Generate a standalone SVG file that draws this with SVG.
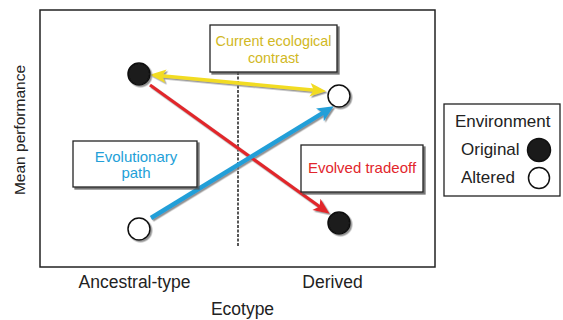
<svg xmlns="http://www.w3.org/2000/svg" width="563" height="320" viewBox="0 0 563 320">
<style>
text{font-family:"Liberation Sans",Arial,sans-serif;}
.ax{font-size:17.5px;fill:#222;}
.lab{font-size:15px;text-anchor:middle;}
.box{fill:#fff;stroke:#222;stroke-width:1.3;}
.frame{fill:#fff;stroke:#222;stroke-width:1.5;}
.dot{stroke:#111;stroke-width:1.5;}
.fill{fill:#1a1a1a;}
.open{fill:#fff;}
.conn{fill:none;stroke-linecap:butt;}
</style>
<defs>
<filter id="sh" x="-20%" y="-20%" width="150%" height="150%">
<feDropShadow dx="2" dy="2" stdDeviation="0.6" flood-color="#555" flood-opacity="0.8"/>
</filter>
<filter id="shl" x="-20%" y="-20%" width="150%" height="150%">
<feDropShadow dx="1.5" dy="1.5" stdDeviation="0.5" flood-color="#777" flood-opacity="0.8"/>
</filter>
<marker id="ay" markerUnits="userSpaceOnUse" markerWidth="20" markerHeight="20" refX="0" refY="0" viewBox="-6 -8 16 16" orient="auto-start-reverse">
<path d="M9,0 L-4,-5.5 L-1,0 L-4,5.5 Z" fill="#f2dc22"/>
</marker>
<marker id="ar" markerUnits="userSpaceOnUse" markerWidth="20" markerHeight="20" refX="0" refY="0" viewBox="-6 -8 16 16" orient="auto">
<path d="M9,0 L-4,-5.5 L-1,0 L-4,5.5 Z" fill="#e2262c"/>
</marker>
<marker id="ab" markerUnits="userSpaceOnUse" markerWidth="20" markerHeight="20" refX="0" refY="0" viewBox="-6 -8 16 16" orient="auto">
<path d="M9,0 L-4,-6 L-1,0 L-4,6 Z" fill="#239fd8"/>
</marker>
</defs>

<rect class="frame" x="40" y="10" width="395" height="257"/>
<line x1="238" y1="72" x2="238" y2="247" stroke="#111" stroke-width="1.4" stroke-dasharray="3,1.5"/>

<g id="connectors" filter="url(#shl)">
<line id="conn-contrast" class="conn" x1="161" y1="75.8" x2="315" y2="90.2" stroke="#f2dc22" stroke-width="3.5" marker-start="url(#ay)" marker-end="url(#ay)"/>
<line id="conn-tradeoff" class="conn" x1="150" y1="85" x2="320.5" y2="207.3" stroke="#e2262c" stroke-width="3.2" marker-end="url(#ar)"/>
<line id="conn-path" class="conn" x1="151" y1="218" x2="324.2" y2="112.2" stroke="#239fd8" stroke-width="4.5" marker-end="url(#ab)"/>
</g>

<g id="node-ancestral-original" filter="url(#shl)"><circle class="dot fill" cx="139" cy="74" r="11"/></g>
<g id="node-derived-altered" filter="url(#shl)"><circle class="dot open" cx="339" cy="96" r="11"/></g>
<g id="node-derived-original" filter="url(#shl)"><circle class="dot fill" cx="339" cy="223" r="11"/></g>
<g id="node-ancestral-altered" filter="url(#shl)"><circle class="dot open" cx="139" cy="229" r="11"/></g>

<g id="label-contrast">
<rect class="box" x="210" y="25" width="127" height="47" filter="url(#sh)"/>
<text class="lab" x="273.5" y="46" fill="#d1b824" style="font-size:14.4px">Current ecological</text>
<text class="lab" x="273.5" y="63" fill="#d1b824" style="font-size:14.4px">contrast</text>
</g>
<g id="label-path">
<rect class="box" x="73" y="141" width="124" height="46" filter="url(#sh)"/>
<text class="lab" x="136" y="162" fill="#239fd8">Evolutionary</text>
<text class="lab" x="136" y="178" fill="#239fd8">path</text>
</g>
<g id="label-tradeoff">
<rect class="box" x="301" y="145" width="122" height="47" filter="url(#sh)"/>
<text class="lab" x="362" y="173" fill="#e2262c">Evolved tradeoff</text>
</g>

<g id="legend">
<rect class="box" x="444" y="104" width="116" height="92"/>
<text x="455" y="127" style="font-size:17px;fill:#222">Environment</text>
<text x="461" y="155" style="font-size:17px;fill:#222">Original</text>
<circle class="dot fill" cx="539" cy="150" r="11.5"/>
<text x="461" y="183" style="font-size:17px;fill:#222">Altered</text>
<circle class="dot open" cx="539" cy="178" r="10.5"/>
</g>

<g id="axes-labels">
<text class="ax" x="134.5" y="288" text-anchor="middle">Ancestral-type</text>
<text class="ax" x="332.5" y="288" text-anchor="middle">Derived</text>
<text class="ax" x="242.5" y="315" text-anchor="middle">Ecotype</text>
<text class="ax" transform="translate(25,130) rotate(-90)" text-anchor="middle" style="font-size:15.5px">Mean performance</text>
</g>
</svg>
